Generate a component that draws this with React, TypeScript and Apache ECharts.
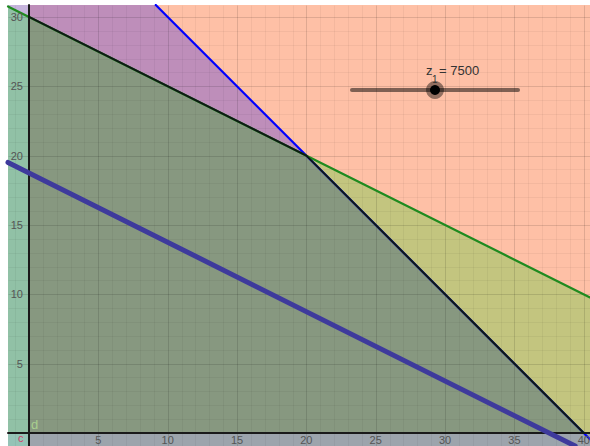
import React, { useEffect, useRef } from "react";
import * as echarts from "echarts";

// ---- view window (data units) ----
const X_MIN = -1.514;
const X_MAX = 40.45;
const Y_MIN = -0.94;
const Y_MAX = 30.86;

// ---- tick labels ----
const xTickLabels = [5, 10, 15, 20, 25, 30, 35, 40];
const yTickLabels = [5, 10, 15, 20, 25, 30];
const xMinorTicks = [-1, 0, 1, 2, 3, 4, 5, 6, 7, 8, 9, 10, 11, 12, 13, 14, 15, 16, 17, 18, 19, 20, 21, 22, 23, 24, 25, 26, 27, 28, 29, 30, 31, 32, 33, 34, 35, 36, 37, 38, 39, 40];
const yMinorTicks = [0, 1, 2, 3, 4, 5, 6, 7, 8, 9, 10, 11, 12, 13, 14, 15, 16, 17, 18, 19, 20, 21, 22, 23, 24, 25, 26, 27, 28, 29, 30];
const majorTicksX = [0, 5, 10, 15, 20, 25, 30, 35, 40];
const majorTicksY = [0, 5, 10, 15, 20, 25, 30];

// ---- constraints a*x + b*y = c ----
const blueConstraint = [1, 1, 40];
const greenConstraint = [1, 2, 60];
const objective = [200, 400]; // z = 200x + 400y
const zValue = 7500;
const feasibleVertices = [
  [0, 0],
  [0, 30],
  [20, 20],
  [40, 0],
];
// region name labels: [x, y]
const labelD = [0.4, 0.6];
const labelC = [-0.6, -0.38];

const yOn = (l: number[], x: number) => (l[2] - l[0] * x) / l[1];
const xOn = (l: number[], y: number) => (l[2] - l[1] * y) / l[0];

export default function App() {
  const ref = useRef<HTMLDivElement>(null);
  useEffect(() => {
    if (!ref.current) return;
    const chart = echarts.init(ref.current, undefined, { renderer: "svg" });

    const corner = feasibleVertices[2];
    const gLeft = yOn(greenConstraint, X_MIN);
    const gRight = yOn(greenConstraint, X_MAX);
    const bTop = xOn(blueConstraint, Y_MAX);
    const regions: { pts: number[][]; color: string }[] = [
      { pts: [[X_MIN, Y_MIN], [X_MAX, Y_MIN], [X_MAX, Y_MAX], [X_MIN, Y_MAX]], color: "#FEC0A6" },
      { pts: [[0, 30], corner, [bTop, Y_MAX], [0, Y_MAX]], color: "#BE8EBA" },
      { pts: [corner, [X_MAX, gRight], [X_MAX, 0], [40, 0]], color: "#C3C57F" },
      { pts: feasibleVertices, color: "#879880" },
      { pts: [[X_MIN, gLeft], [0, 30], [0, Y_MAX], [X_MIN, Y_MAX]], color: "#C6B4DC" },
      { pts: [[X_MIN, 0], [X_MIN, gLeft], [0, 30], [0, 0]], color: "#91C1A6" },
      { pts: [[0, Y_MIN], [0, 0], [X_MAX, 0], [X_MAX, Y_MIN]], color: "#9CA4AC" },
      { pts: [[X_MIN, Y_MIN], [X_MIN, 0], [0, 0], [0, Y_MIN]], color: "#95C3B6" },
    ];

    const gridLines: { v: number; dir: "x" | "y"; major: boolean }[] = [];
    xMinorTicks.forEach((v) => gridLines.push({ v, dir: "x", major: majorTicksX.includes(v) }));
    yMinorTicks.forEach((v) => gridLines.push({ v, dir: "y", major: majorTicksY.includes(v) }));

    const labels: { v: number; dir: "x" | "y" }[] = [
      ...xTickLabels.map((v) => ({ v, dir: "x" as const })),
      ...yTickLabels.map((v) => ({ v, dir: "y" as const })),
    ];

    const objLeft = (zValue - objective[0] * X_MIN) / objective[1];
    const objBottomX = (zValue - objective[1] * Y_MIN) / objective[0];

    const lineSeries = (name: string, data: number[][], color: string, width: number, z: number) => ({
      type: "line",
      name,
      data,
      symbol: "none",
      z,
      lineStyle: { color, width, cap: "round", join: "round" },
      silent: true,
    });

    chart.setOption({
      animation: false,
      backgroundColor: "#ffffff",
      grid: { left: 8, top: 5, right: 0, bottom: 0, containLabel: false },
      xAxis: { type: "value", min: X_MIN, max: X_MAX, show: false },
      yAxis: { type: "value", min: Y_MIN, max: Y_MAX, show: false },
      series: [
        {
          type: "custom",
          z: 1,
          silent: true,
          data: regions.map((_, i) => [i, 0]),
          renderItem: (params: any, api: any) => {
            const r = regions[api.value(0)];
            return {
              type: "polygon",
              shape: { points: r.pts.map((p) => api.coord(p)) },
              style: { fill: r.color },
            };
          },
        },
        {
          type: "custom",
          z: 2,
          silent: true,
          data: gridLines.map((_, i) => [i, 0]),
          renderItem: (params: any, api: any) => {
            const g = gridLines[api.value(0)];
            const a = g.dir === "x" ? api.coord([g.v, Y_MIN]) : api.coord([X_MIN, g.v]);
            const b = g.dir === "x" ? api.coord([g.v, Y_MAX]) : api.coord([X_MAX, g.v]);
            return {
              type: "line",
              shape: { x1: Math.round(a[0]) + 0.5, y1: Math.round(a[1]) + 0.5, x2: Math.round(b[0]) + 0.5, y2: Math.round(b[1]) + 0.5 },
              style: { stroke: g.major ? "rgba(0,0,0,0.12)" : "rgba(0,0,0,0.045)", lineWidth: 1 },
            };
          },
        },
        lineSeries("blue", [[X_MAX, yOn(blueConstraint, X_MAX)], [bTop, Y_MAX]], "#0000FF", 2.2, 3),
        lineSeries("green", [[X_MIN, gLeft], [X_MAX, gRight]], "#1F8A1F", 2.2, 3),
        lineSeries("axisY", [[0, Y_MIN], [0, Y_MAX]], "#1A1A1A", 2, 4),
        lineSeries("axisX", [[X_MIN, 0], [X_MAX, 0]], "#1A1A1A", 2, 4),
        lineSeries("feasible", feasibleVertices.slice(1), "#0E1A14", 2, 5),
        lineSeries("objective", [[X_MIN, objLeft], [objBottomX, Y_MIN]], "#3E3A9C", 5, 6),
        {
          type: "custom",
          z: 7,
          silent: true,
          data: labels.map((_, i) => [i, 0]),
          renderItem: (params: any, api: any) => {
            const l = labels[api.value(0)];
            if (l.dir === "x") {
              const p = api.coord([l.v, 0]);
              return {
                type: "text",
                x: p[0],
                y: p[1] + 2,
                style: { text: String(l.v), fill: "#555555", font: "11px 'Liberation Sans', Arial, sans-serif", textAlign: "center", textVerticalAlign: "top" },
              };
            }
            const p = api.coord([0, l.v]);
            return {
              type: "text",
              x: p[0] - 6,
              y: p[1],
              style: { text: String(l.v), fill: "#555555", font: "11px 'Liberation Sans', Arial, sans-serif", textAlign: "right", textVerticalAlign: "middle" },
            };
          },
        },
        {
          type: "custom",
          z: 7,
          silent: true,
          data: [[labelD[0], labelD[1], 0], [labelC[0], labelC[1], 1]],
          renderItem: (params: any, api: any) => {
            const p = api.coord([api.value(0), api.value(1)]);
            const isD = api.value(2) === 0;
            return {
              type: "text",
              x: p[0],
              y: p[1],
              style: { text: isD ? "d" : "c", fill: isD ? "#A9CF8F" : "#D0406A", font: (isD ? "13px" : "11px") + " 'Liberation Sans', Arial, sans-serif", textAlign: "center", textVerticalAlign: "middle" },
            };
          },
        },
      ],
      graphic: [
        { type: "line", z: 20, shape: { x1: 352, y1: 90, x2: 518, y2: 90 }, style: { stroke: "rgba(0,0,0,0.5)", lineWidth: 4, lineCap: "round" } },
        { type: "circle", z: 21, shape: { cx: 435, cy: 90, r: 9 }, style: { fill: "rgba(0,0,0,0.42)" } },
        { type: "circle", z: 22, shape: { cx: 435, cy: 90, r: 5 }, style: { fill: "#000000" } },
        { type: "text", z: 23, x: 426, y: 77, style: { text: "z", fill: "#333333", font: "13px 'Liberation Sans', Arial, sans-serif", textAlign: "left", textVerticalAlign: "bottom" } },
        { type: "text", z: 23, x: 432, y: 84, style: { text: "1", fill: "#333333", font: "10px 'Liberation Sans', Arial, sans-serif", textAlign: "left", textVerticalAlign: "bottom" } },
        { type: "text", z: 23, x: 439, y: 77, style: { text: "= " + zValue, fill: "#333333", font: "13px 'Liberation Sans', Arial, sans-serif", textAlign: "left", textVerticalAlign: "bottom" } },
      ],
    });
    return () => chart.dispose();
  }, []);
  return <div ref={ref} style={{ position: "absolute", left: 0, top: 0, width: 590, height: 446 }} />;
}
